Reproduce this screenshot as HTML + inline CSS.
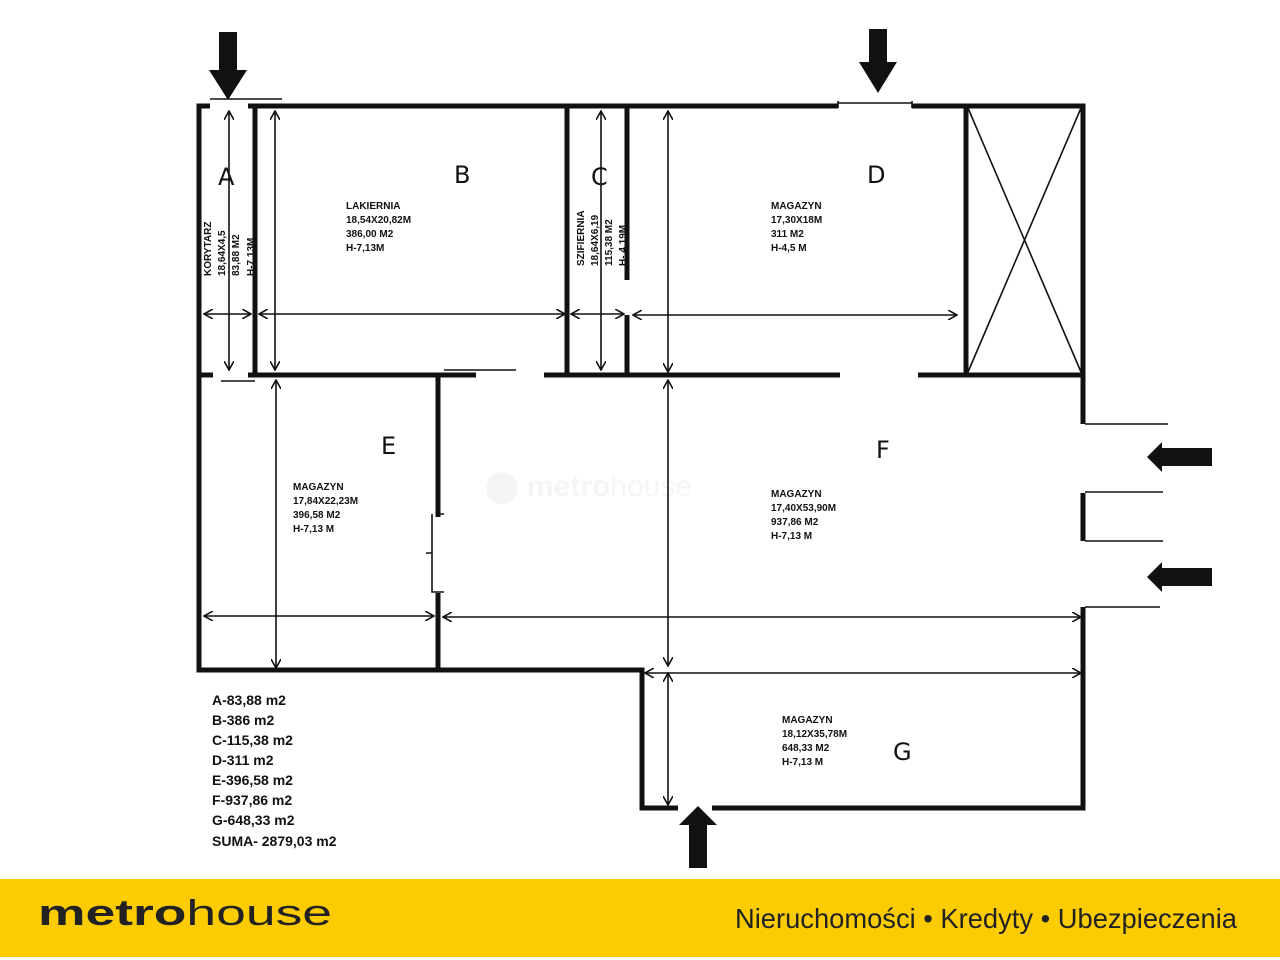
<!DOCTYPE html>
<html><head><meta charset="utf-8"><style>
html,body{margin:0;padding:0;background:#fff;width:1280px;height:960px;overflow:hidden}
svg{display:block}
.w{stroke:#111;stroke-width:5;fill:none}
.t{stroke:#111;stroke-width:1.6;fill:none}
.s{font-family:"Liberation Sans",sans-serif;font-weight:bold;font-size:10px;fill:#111}
.L{font-family:"DejaVu Sans","Liberation Sans",sans-serif;font-size:24px;fill:#111}
.sum{font-family:"Liberation Sans",sans-serif;font-weight:bold;font-size:14px;fill:#111}
</style></head><body>
<svg width="1280" height="960" viewBox="0 0 1280 960" xmlns="http://www.w3.org/2000/svg">
<defs>
<marker id="a" viewBox="0 0 10 10" refX="9" refY="5" markerWidth="10" markerHeight="10" markerUnits="userSpaceOnUse" orient="auto-start-reverse"><path d="M0,0 L9,5 L0,10" fill="none" stroke="#111" stroke-width="1.6"/></marker>
</defs>
<!-- watermark -->
<text x="485" y="496" font-family="Liberation Sans,sans-serif" font-weight="bold" font-size="30" fill="#f5f5f5">⬤ metro<tspan font-weight="normal">house</tspan></text>
<!-- walls -->
<g class="w">
<path d="M210,106 H199 V670 H642 V808 H678"/>
<path d="M248,106 H838 M912,106 H1083 V424"/>
<path d="M1083,493 V541 M1083,607 V808 H712"/>
<path d="M255,106 V375 M200,375 H213 M248,375 H476 M544,375 H840 M918,375 H1083"/>
<path d="M567,106 V375 M627,106 V280 M627,315 V375"/>
<path d="M966,108 V375"/>
<path d="M438,375 V517 M438,593 V670"/>
</g>
<g class="t">
<path d="M210,99 H282 M221,381 H255 M444,370 H516"/>
<path d="M838,103 H912 M838,101 V108 M912,101 V108"/>
<path d="M968,108 L1081,372 M1081,108 L968,372"/>
<path d="M1085,424 H1168 M1085,492 H1163 M1085,541 H1163 M1085,607 H1160"/>
<path d="M438,514 H444 M432,514 V592 H444 M426,553 H432"/>
</g>
<!-- dimension arrows -->
<g class="t" marker-start="url(#a)" marker-end="url(#a)">
<line x1="229" y1="111" x2="229" y2="370"/>
<line x1="204" y1="314" x2="251" y2="314"/>
<line x1="275" y1="111" x2="275" y2="370"/>
<line x1="259" y1="314" x2="565" y2="314"/>
<line x1="601" y1="111" x2="601" y2="370"/>
<line x1="571" y1="314" x2="624" y2="314"/>
<line x1="668" y1="111" x2="668" y2="372"/>
<line x1="633" y1="315" x2="957" y2="315"/>
<line x1="276" y1="380" x2="276" y2="668"/>
<line x1="204" y1="616" x2="434" y2="616"/>
<line x1="668" y1="380" x2="668" y2="666"/>
<line x1="443" y1="617" x2="1081" y2="617"/>
<line x1="668" y1="673" x2="668" y2="805"/>
<line x1="645" y1="673" x2="1081" y2="673"/>
</g>
<!-- entry arrows -->
<g fill="#111">
<path d="M219,32 H237 V70 H247 L228,100 L209,70 H219 Z"/>
<path d="M869,29 H887 V62 H897 L878,93 L859,62 H869 Z"/>
<path d="M1147,457 L1162,442 V448 H1212 V466 H1162 V472 Z"/>
<path d="M1147,577 L1162,562 V568 H1212 V586 H1162 V592 Z"/>
<path d="M698,806 L717,825 H707 V868 H689 V825 H679 Z"/>
</g>
<!-- letters -->
<text class="L" x="218" y="185">A</text>
<text class="L" x="454" y="183">B</text>
<text class="L" x="591" y="185">C</text>
<text class="L" x="867" y="183">D</text>
<text class="L" x="381" y="454">E</text>
<text class="L" x="876" y="458">F</text>
<text class="L" x="893" y="760">G</text>
<!-- room texts -->
<g class="s">
<text x="346" y="209">LAKIERNIA</text><text x="346" y="223">18,54X20,82M</text><text x="346" y="237">386,00 M2</text><text x="346" y="251">H-7,13M</text>
<text x="771" y="209">MAGAZYN</text><text x="771" y="223">17,30X18M</text><text x="771" y="237">311 M2</text><text x="771" y="251">H-4,5 M</text>
<text x="293" y="490">MAGAZYN</text><text x="293" y="504">17,84X22,23M</text><text x="293" y="518">396,58 M2</text><text x="293" y="532">H-7,13 M</text>
<text x="771" y="497">MAGAZYN</text><text x="771" y="511">17,40X53,90M</text><text x="771" y="525">937,86 M2</text><text x="771" y="539">H-7,13 M</text>
<text x="782" y="723">MAGAZYN</text><text x="782" y="737">18,12X35,78M</text><text x="782" y="751">648,33 M2</text><text x="782" y="765">H-7,13 M</text>
<g transform="translate(211,276) rotate(-90)"><text>KORYTARZ</text></g>
<g transform="translate(225,276) rotate(-90)"><text>18,64X4,5</text></g>
<g transform="translate(239,276) rotate(-90)"><text>83,88 M2</text></g>
<g transform="translate(254,276) rotate(-90)"><text>H-7,13M</text></g>
<g transform="translate(584,266) rotate(-90)"><text>SZIFIERNIA</text></g>
<g transform="translate(598,266) rotate(-90)"><text>18,64X6,19</text></g>
<g transform="translate(612,266) rotate(-90)"><text>115,38 M2</text></g>
<g transform="translate(626,266) rotate(-90)"><text>H- 4,19M</text></g>
</g>
<!-- summary -->
<g class="sum">
<text x="212" y="705">A-83,88 m2</text>
<text x="212" y="725">B-386 m2</text>
<text x="212" y="745">C-115,38 m2</text>
<text x="212" y="765">D-311 m2</text>
<text x="212" y="785">E-396,58 m2</text>
<text x="212" y="805">F-937,86 m2</text>
<text x="212" y="825">G-648,33 m2</text>
<text x="212" y="846">SUMA- 2879,03 m2</text>
</g>
<!-- footer -->
<rect x="0" y="879" width="1280" height="78" fill="#fccc00"/>
<text x="38" y="925" font-family="Liberation Sans,sans-serif" font-size="36" fill="#222" textLength="294" lengthAdjust="spacingAndGlyphs"><tspan font-weight="bold">metro</tspan><tspan>house</tspan></text>
<text x="735" y="928" font-family="Liberation Sans,sans-serif" font-size="28" fill="#222" textLength="502" lengthAdjust="spacingAndGlyphs">Nieruchomości • Kredyty • Ubezpieczenia</text>
</svg>
</body></html>
